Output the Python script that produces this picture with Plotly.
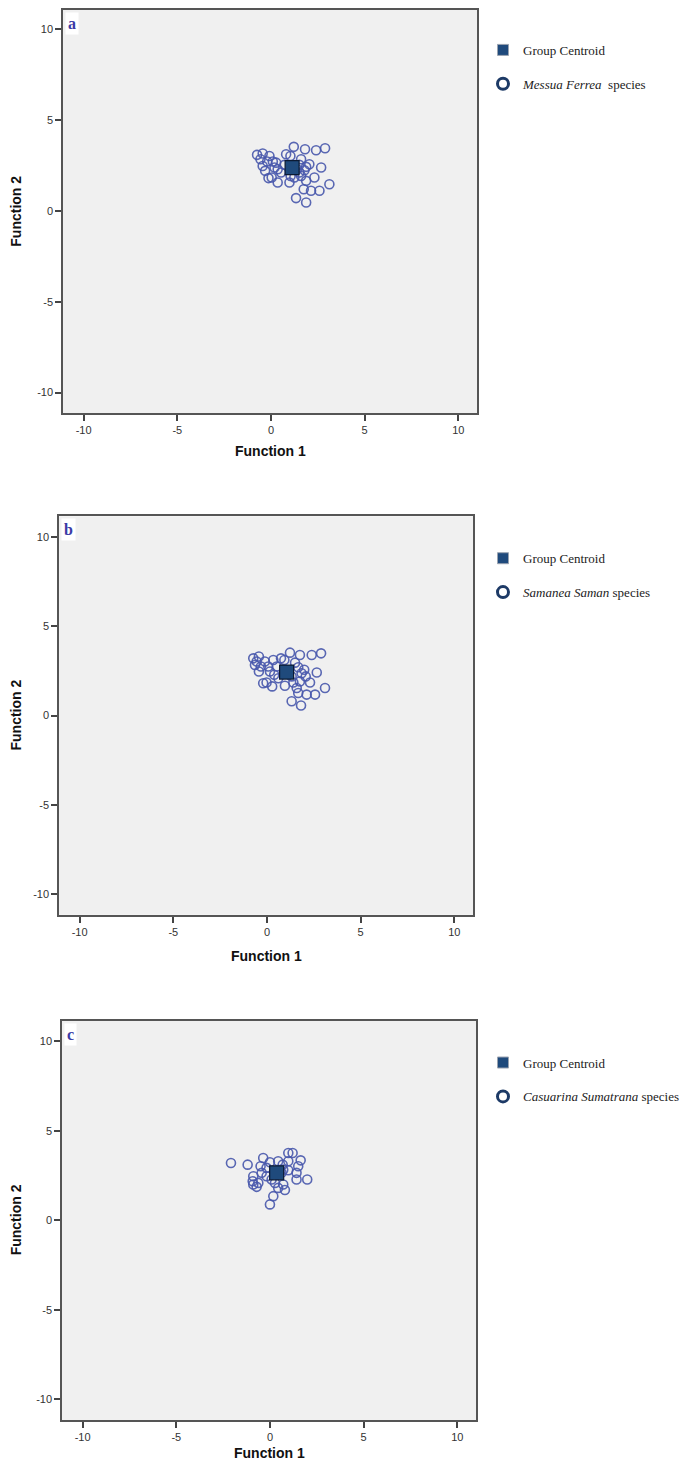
import plotly.graph_objects as go

# ---------------- data ----------------
# Panel a: Messua Ferrea
a_x = [1.22, 1.82, 2.41, 2.89, -0.74, -0.44, -0.56, -0.08, 0.10, 0.81, 1.04, 1.61,
       2.05, 2.68, -0.44, -0.20, 0.28, 0.36, 0.54, 0.04, -0.13, 0.36, 0.99, 1.25,
       1.52, 1.79, 1.88, 2.32, 3.12, 1.75, 2.14, 2.59, 1.34, 1.88, 1.52, 1.88,
       0.72, 1.40, 1.61, 1.05, 0.19, -0.31]
a_y = [3.52, 3.39, 3.33, 3.44, 3.08, 3.15, 2.84, 3.02, 2.71, 3.11, 3.02, 2.84,
       2.56, 2.38, 2.47, 2.71, 2.65, 2.29, 2.11, 1.83, 1.80, 1.56, 1.56, 1.83,
       2.11, 2.23, 1.65, 1.83, 1.46, 1.19, 1.10, 1.10, 0.70, 0.46, 2.53, 2.42,
       2.53, 2.29, 1.92, 1.92, 2.38, 2.20]
a_centroid_x = [1.13]
a_centroid_y = [2.38]

# Panel b: Samanea Saman
b_x = [-0.73, -0.43, -0.43, -0.55, -0.11, 0.07, 0.16, 0.39, -0.02, -0.20, 0.28, 0.75,
       1.23, 1.76, 2.39, 2.89, 0.93, 1.50, 1.67, 1.99, 2.07, 1.76, 1.41, 1.59,
       0.96, 2.66, 2.30, 3.10, 1.67, 2.12, 2.57, 1.32, 1.82, 0.61, 0.52, 0.34,
       -0.32, 1.85, 1.32, -0.64]
b_y = [3.20, 3.30, 2.46, 3.02, 3.02, 2.74, 2.46, 2.28, 1.85, 1.81, 1.63, 3.20,
       3.52, 3.39, 3.39, 3.48, 3.11, 2.96, 2.70, 2.56, 2.19, 1.91, 1.85, 1.54,
       1.67, 2.41, 1.85, 1.54, 1.26, 1.17, 1.17, 0.80, 0.56, 2.09, 2.74, 3.11,
       2.74, 2.37, 2.19, 2.83]
b_centroid_x = [1.05]
b_centroid_y = [2.43]

# Panel c: Casuarina Sumatrana
c_x = [-2.08, -1.19, -0.36, -0.50, 0.00, 0.44, 0.68, 0.98, 0.98, 1.21, 1.64, 1.51,
       1.42, 1.42, 1.99, 0.98, -0.44, -0.89, -0.92, -0.62, -0.89, -0.71, 0.09, 0.27,
       0.44, 0.71, 0.80, 0.18, 0.00, -0.18, 0.62, 0.71, -0.18]
c_y = [3.20, 3.11, 3.48, 3.02, 3.24, 3.30, 3.11, 3.30, 3.76, 3.76, 3.35, 3.02,
       2.65, 2.28, 2.28, 2.80, 2.65, 2.46, 2.18, 2.09, 2.00, 1.87, 2.28, 2.09,
       1.81, 2.00, 1.69, 1.35, 0.89, 2.46, 2.65, 2.83, 2.93]
c_centroid_x = [0.36]
c_centroid_y = [2.65]

species_names = ["Messua Ferrea", "Samanea Saman", "Casuarina Sumatrana"]
species_suffix = ["&nbsp; species", " species", " species"]
panel_letters = ["a", "b", "c"]
tick_values = [-10, -5, 0, 5, 10]
tick_labels = ["-10", "-5", "0", "5", "10"]
x_label = "Function 1"
y_label = "Function 2"
centroid_label = "Group Centroid"

# ---------------- layout / style ----------------
PAGE_OFF = 8           # default page body margin
W, H = 693 - PAGE_OFF, 1462 - PAGE_OFF
# plot boxes in page pixels: (left, right, top, bottom)
boxes = [(63, 477, 8, 412), (59, 473, 515, 914), (62, 476, 1020, 1420)]
x_range = [-11.1, 11.0]
y_ranges = [[-11.15, 11.05], [-11.15, 11.15], [-11.15, 11.15]]
legend_tops = [33, 542, 1047]
xtitle_y = [450, 955, 1453]

POINT_COLOR = "rgba(72,88,172,0.9)"
CENTROID_FILL = "#1f4a7c"
CENTROID_LINE = "#0b1a33"
LEGEND_RING = "#1d3a66"
AXIS_COLOR = "#555555"


def fx(px):
    return min(1.0, max(0.0, (px - PAGE_OFF) / W))


def fy(py):
    return min(1.0, max(0.0, 1 - (py - PAGE_OFF) / H))


fig = go.Figure()

panels = [
    (a_x, a_y, a_centroid_x, a_centroid_y),
    (b_x, b_y, b_centroid_x, b_centroid_y),
    (c_x, c_y, c_centroid_x, c_centroid_y),
]

layout = dict(
    width=W, height=H,
    margin=dict(l=0, r=0, t=0, b=0),
    paper_bgcolor="white",
    plot_bgcolor="#f0f0f0",
    showlegend=True,
)
annotations = []

for i, (px, py, cx, cy) in enumerate(panels):
    n = "" if i == 0 else str(i + 1)
    xa, ya = "x" + n, "y" + n
    leg = "legend" + n
    left, right, top, bottom = boxes[i]

    fig.add_trace(go.Scatter(
        x=px, y=py, xaxis=xa, yaxis=ya, mode="markers", showlegend=False,
        marker=dict(symbol="circle-open", size=9,
                    line=dict(color=POINT_COLOR, width=1.6), color=POINT_COLOR),
        hoverinfo="skip"))
    fig.add_trace(go.Scatter(
        x=cx, y=cy, xaxis=xa, yaxis=ya, mode="markers", showlegend=False,
        marker=dict(symbol="square", size=14, color=CENTROID_FILL,
                    line=dict(color=CENTROID_LINE, width=1.2))))
    # legend entries
    fig.add_trace(go.Scatter(
        x=[None], y=[None], xaxis=xa, yaxis=ya, mode="markers",
        name=centroid_label, legend=leg, legendgroup="g1" + n,
        marker=dict(symbol="square", size=11, color=CENTROID_FILL,
                    line=dict(color="#9aa3b0", width=1))))
    fig.add_trace(go.Scatter(
        x=[None], y=[None], xaxis=xa, yaxis=ya, mode="markers",
        name="<i>" + species_names[i] + "</i>" + species_suffix[i],
        legend=leg, legendgroup="g2" + n,
        marker=dict(symbol="circle-open", size=11,
                    line=dict(color=LEGEND_RING, width=3), color=LEGEND_RING)))

    axis_common = dict(
        showgrid=False, zeroline=False, showline=True, mirror=True,
        linecolor=AXIS_COLOR, linewidth=1.5,
        ticks="outside", ticklen=6, tickwidth=1.5, tickcolor="#444444",
        tickvals=tick_values, ticktext=tick_labels,
        tickfont=dict(family="Liberation Sans, Arial", size=11, color="#333333"),
        fixedrange=True,
    )
    layout["xaxis" + n] = dict(axis_common, range=x_range, anchor=ya,
                               domain=[fx(left), fx(right)])
    layout["yaxis" + n] = dict(axis_common, range=y_ranges[i], anchor=xa,
                               domain=[fy(bottom), fy(top)])

    layout[leg] = dict(
        x=fx(483), y=fy(legend_tops[i]), xanchor="left", yanchor="top",
        bgcolor="rgba(0,0,0,0)", tracegroupgap=14, itemwidth=30,
        font=dict(family="Liberation Serif, Times New Roman", size=13, color="#222222"),
    )

    # panel letter
    annotations.append(dict(
        text="<b>" + panel_letters[i] + "</b>", xref=xa + " domain", yref=ya + " domain",
        x=0.005, y=0.995, xanchor="left", yanchor="top", showarrow=False,
        font=dict(family="Liberation Serif, Times New Roman", size=16, color="#3b3ba6"),
        bgcolor="white", borderpad=2))
    # axis titles
    annotations.append(dict(
        text="<b>" + x_label + "</b>", xref="paper", yref="paper",
        x=fx((left + right) / 2), y=fy(xtitle_y[i]),
        xanchor="center", yanchor="middle", showarrow=False,
        font=dict(family="Liberation Sans, Arial", size=14, color="#111111")))
    annotations.append(dict(
        text="<b>" + y_label + "</b>", xref="paper", yref="paper",
        x=fx(16), y=fy((top + bottom) / 2),
        xanchor="center", yanchor="middle", textangle=-90, showarrow=False,
        font=dict(family="Liberation Sans, Arial", size=14, color="#111111")))

layout["annotations"] = annotations
fig.update_layout(**layout)

fig.write_html("out.html")
